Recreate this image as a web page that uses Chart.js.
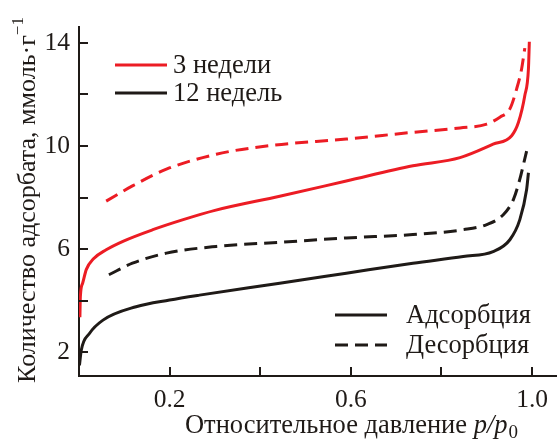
<!DOCTYPE html>
<html>
<head>
<meta charset="utf-8">
<script src="https://cdn.jsdelivr.net/npm/chart.js@4/dist/chart.umd.min.js"></script>
<style>
  html, body { margin: 0; padding: 0; background: #fff; }
  #wrap { width: 557px; height: 441px; }
</style>
</head>
<body>
<div id="wrap"><canvas id="myChart" width="557" height="441"></canvas></div>
<script>
// 3 weeks
var ads3x = [0.002, 0.003, 0.008, 0.016, 0.032, 0.06, 0.097, 0.163, 0.23, 0.30, 0.443, 0.59, 0.737, 0.841, 0.914, 0.955, 0.97, 0.984, 0.992, 0.994];
var ads3y = [3.35, 4.15, 4.67, 5.2, 5.62, 5.97, 6.3, 6.75, 7.14, 7.5, 8.05, 8.64, 9.23, 9.55, 10.07, 10.4, 10.92, 11.96, 13.0, 14.05];
var des3x = [0.06, 0.118, 0.193, 0.303, 0.414, 0.59, 0.737, 0.841, 0.9, 0.929, 0.951, 0.966, 0.977, 0.984];
var des3y = [7.86, 8.45, 9.1, 9.68, 10.0, 10.27, 10.53, 10.7, 10.85, 11.12, 11.44, 12.22, 13.0, 13.8];
// 12 weeks
var ads12x = [0.001, 0.005, 0.023, 0.053, 0.126, 0.2, 0.266, 0.443, 0.59, 0.737, 0.848, 0.914, 0.951, 0.973, 0.988, 0.992];
var ads12y = [1.48, 2.07, 2.72, 3.24, 3.76, 4.02, 4.21, 4.67, 5.06, 5.45, 5.71, 5.9, 6.36, 7.14, 8.31, 8.96];
var des12x = [0.066, 0.118, 0.193, 0.303, 0.443, 0.59, 0.737, 0.848, 0.9, 0.937, 0.959, 0.973, 0.982, 0.988];
var des12y = [5.0, 5.45, 5.84, 6.1, 6.26, 6.43, 6.56, 6.75, 6.95, 7.34, 7.93, 8.71, 9.36, 9.8];

var xTicks = [0.2, 0.4, 0.6, 0.8, 1.0];
var xLabels = ['0.2', '', '0.6', '', '1.0'];
var yTicks = [2, 4, 6, 8, 10, 12, 14];
var yLabels = ['2', '', '6', '', '10', '', '14'];

var RED = '#ec1c24';
var BLACK = '#1f1a17';
var FONT = '"Liberation Serif", "DejaVu Serif", serif';

function pts(xs, ys) {
  return xs.map(function (x, i) { return {x: x, y: ys[i]}; });
}

function line(data, color, dashed) {
  return {
    data: data,
    borderColor: color,
    borderWidth: 3,
    borderDash: dashed ? [13, 7] : [],
    pointRadius: 0,
    fill: false,
    cubicInterpolationMode: 'monotone'
  };
}

// ticks pointing inward, legends and axis titles
var decor = {
  id: 'decor',
  afterDraw: function (chart) {
    var c = chart.ctx;
    var xs = chart.scales.x, ys = chart.scales.y;
    var area = chart.chartArea;
    c.save();
    c.strokeStyle = BLACK;
    c.lineWidth = 2;
    xTicks.forEach(function (v) {
      var px = Math.round(xs.getPixelForValue(v));
      c.beginPath(); c.moveTo(px, area.bottom); c.lineTo(px, area.bottom - 9); c.stroke();
    });
    yTicks.forEach(function (v) {
      var py = Math.round(ys.getPixelForValue(v));
      c.beginPath(); c.moveTo(area.left, py); c.lineTo(area.left + 9, py); c.stroke();
    });

    // legends
    function entry(x, y, color, dashed, text, tx) {
      c.strokeStyle = color;
      c.lineWidth = 3;
      c.setLineDash(dashed ? [13, 7] : []);
      c.beginPath(); c.moveTo(x, y); c.lineTo(x + 52, y); c.stroke();
      c.setLineDash([]);
      c.fillStyle = BLACK;
      c.font = '26.5px ' + FONT;
      c.textBaseline = 'middle';
      c.textAlign = 'left';
      c.fillText(text, tx, y + 1);
    }
    entry(115, 65, RED, false, '3 недели', 173);
    entry(115, 93, BLACK, false, '12 недель', 173);
    entry(335, 315, BLACK, false, 'Адсорбция', 406);
    entry(335, 345, BLACK, true, 'Десорбция', 406);

    // x title
    c.fillStyle = BLACK;
    c.textBaseline = 'alphabetic';
    var a = 'Относительное давление ', b = 'p/p', s = '0';
    c.font = '26.5px ' + FONT;
    var wa = c.measureText(a).width;
    c.font = 'italic 26.5px ' + FONT;
    var wb = c.measureText(b).width;
    c.font = '19px ' + FONT;
    var ws = c.measureText(s).width;
    var x0 = 351 - (wa + wb + ws) / 2;
    c.font = '26.5px ' + FONT; c.fillText(a, x0, 433);
    c.font = 'italic 26.5px ' + FONT; c.fillText(b, x0 + wa, 433);
    c.font = '19px ' + FONT; c.fillText(s, x0 + wa + wb + 1, 438);

    // y title
    c.translate(35, 200);
    c.rotate(-Math.PI / 2);
    var t = 'Количество адсорбата, ммоль·г', sup = '−1';
    c.font = '26px ' + FONT;
    var wt = c.measureText(t).width;
    c.font = '17px ' + FONT;
    var wsup = c.measureText(sup).width;
    var y0 = -(wt + wsup) / 2;
    c.font = '26px ' + FONT; c.fillText(t, y0, 0);
    c.font = '17px ' + FONT; c.fillText(sup, y0 + wt, -12);
    c.restore();
  }
};

var ctx = document.getElementById('myChart');
var chart = new Chart(ctx, {
  type: 'line',
  data: {
    datasets: [
      line(pts(ads3x, ads3y), RED, false),
      line(pts(des3x, des3y), RED, true),
      line(pts(ads12x, ads12y), BLACK, false),
      line(pts(des12x, des12y), BLACK, true)
    ]
  },
  options: {
    responsive: false,
    animation: false,
    layout: { padding: { top: 27, right: 0, left: 0, bottom: 0 } },
    plugins: { legend: { display: false }, tooltip: { enabled: false } },
    scales: {
      x: {
        type: 'linear',
        min: 0,
        max: 1.055,
        afterBuildTicks: function (scale) {
          scale.ticks = xTicks.map(function (v) { return {value: v}; });
        },
        afterFit: function (scale) { scale.height = 65; },
        grid: { display: false, drawTicks: false },
        border: { display: true, color: BLACK, width: 2 },
        ticks: {
          color: BLACK,
          padding: 9,
          maxRotation: 0,
          autoSkip: false,
          font: { family: FONT, size: 25.5 },
          callback: function (v) { return xLabels[xTicks.indexOf(v)] || ''; }
        }
      },
      y: {
        min: 1.07,
        max: 14.62,
        afterBuildTicks: function (scale) {
          scale.ticks = yTicks.map(function (v) { return {value: v}; });
        },
        afterFit: function (scale) { scale.width = 79; },
        grid: { display: false, drawTicks: false },
        border: { display: true, color: BLACK, width: 2 },
        ticks: {
          color: BLACK,
          padding: 9,
          autoSkip: false,
          font: { family: FONT, size: 25.5 },
          callback: function (v) { return yLabels[yTicks.indexOf(v)] || ''; }
        }
      }
    }
  },
  plugins: [decor]
});
</script>
</body>
</html>
